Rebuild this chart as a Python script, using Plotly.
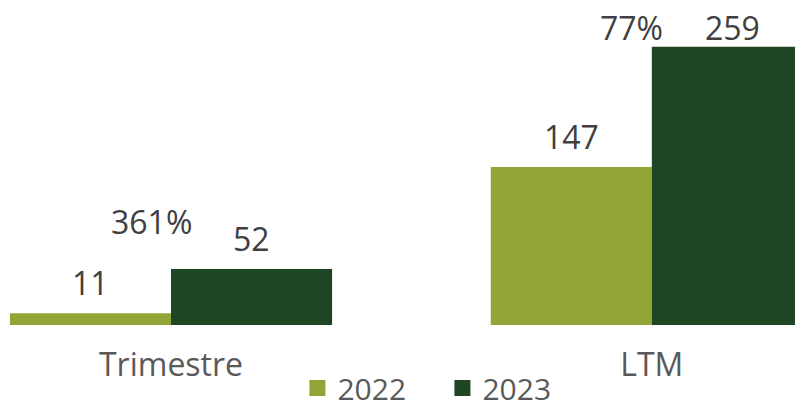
import plotly.graph_objects as go

categories = ["Trimestre", "LTM"]
years = ["2022", "2023"]
values_2022 = [11, 147]
values_2023 = [52, 259]
growth_labels = ["361%", "77%"]

colors = {"2022": "#93A536", "2023": "#1E4524"}
font_family = "Open Sans, Lato, sans-serif"
text_color = "#404040"
tick_color = "#595959"

fig = go.Figure()
for year, vals in zip(years, [values_2022, values_2023]):
    fig.add_trace(go.Bar(x=categories, y=vals, name=year, showlegend=False,
                         marker=dict(color=colors[year], line=dict(width=0))))
    # legend-only entry with a larger square swatch
    fig.add_trace(go.Scatter(x=[None], y=[None], mode="markers", name=year,
                             marker=dict(symbol="square", size=18, color=colors[year])))

# value labels above each bar
label_shift = [[7, 7], [7, -4]]
annotations = []
for i, cat in enumerate(categories):
    for j, vals in enumerate([values_2022, values_2023]):
        annotations.append(dict(
            x=i + (-0.1675 if j == 0 else 0.1675), y=vals[i], xref="x", yref="y",
            text=str(vals[i]), showarrow=False, yanchor="bottom", yshift=label_shift[i][j],
            font=dict(size=32, color=text_color, family=font_family)))

# growth labels, placed between the two bars
growth_y = [96, 277]
for i, lab in enumerate(growth_labels):
    annotations.append(dict(
        x=i, y=growth_y[i], xref="x", yref="y", xshift=-20,
        text=lab, showarrow=False, yanchor="middle",
        font=dict(size=32, color=text_color, family=font_family)))

fig.update_layout(
    width=803, height=403,
    margin=dict(l=0, r=0, t=0, b=86, autoexpand=False),
    plot_bgcolor="white", paper_bgcolor="white",
    barmode="group", bargap=0.33, bargroupgap=0,
    annotations=annotations,
    font=dict(family=font_family, color=text_color),
    xaxis=dict(type="category", range=[-0.339, 1.331], showgrid=False,
               showline=False, zeroline=False, ticks="", automargin=False,
               ticklabelstandoff=18,
               tickfont=dict(size=32, color=tick_color, family=font_family)),
    yaxis=dict(range=[0, 295], visible=False, automargin=False),
    legend=dict(orientation="h", x=0.541, xanchor="center", y=-0.199, yanchor="middle",
                font=dict(size=30, color=tick_color, family=font_family),
                entrywidth=100, entrywidthmode="pixels", itemwidth=30,
                traceorder="normal"),
)

fig.write_html("out.html")
